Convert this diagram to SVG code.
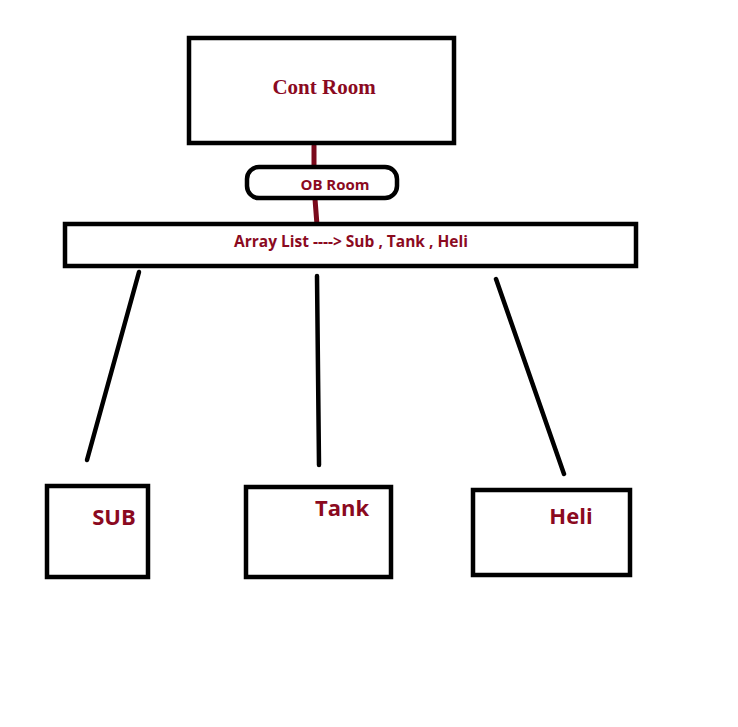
<svg xmlns="http://www.w3.org/2000/svg" width="738" height="727" viewBox="0 0 738 727">
<style>
.box{fill:#fff;stroke:#000;stroke-width:4.5}
.lbl{fill:#8b0a1f;font-family:"Open Sans","Liberation Sans",sans-serif;font-weight:bold}
.ser{fill:#8b0a1f;font-family:"Liberation Serif",serif;font-weight:bold}
.red{stroke:#7a0a1c;stroke-width:5;stroke-linecap:round;fill:none}
.blk{stroke:#000;stroke-width:4.5;stroke-linecap:round;fill:none}
</style>
<rect width="738" height="727" fill="#fff"/>
<g id="connectors">
<line class="red" x1="314" y1="146" x2="314" y2="166"/>
<line class="red" x1="315" y1="199" x2="317" y2="225"/>
<line class="blk" x1="139" y1="272" x2="87" y2="460"/>
<line class="blk" x1="317" y1="276" x2="319" y2="465"/>
<line class="blk" x1="496" y1="279" x2="564" y2="474"/>
</g>
<g id="cont-room">
<rect class="box" x="189" y="38" width="265" height="105"/>
<text class="ser" x="324" y="94" font-size="21" text-anchor="middle">Cont Room</text>
</g>
<g id="ob-room">
<rect class="box" x="247" y="167" width="150" height="31" rx="12"/>
<text class="lbl" x="335" y="190" font-size="15" text-anchor="middle">OB Room</text>
</g>
<g id="array-list">
<rect class="box" x="65" y="224" width="571" height="42"/>
<text class="lbl" x="351" y="247" font-size="15.5" text-anchor="middle">Array List ----&gt; Sub , Tank , Heli</text>
</g>
<g id="sub">
<rect class="box" x="47" y="486" width="101" height="91"/>
<text class="lbl" x="114" y="525" font-size="22" text-anchor="middle">SUB</text>
</g>
<g id="tank">
<rect class="box" x="246" y="487" width="145" height="90"/>
<text class="lbl" x="342" y="516" font-size="22" text-anchor="middle">Tank</text>
</g>
<g id="heli">
<rect class="box" x="473" y="490" width="157" height="85"/>
<text class="lbl" x="571" y="524" font-size="22" text-anchor="middle">Heli</text>
</g>
</svg>
